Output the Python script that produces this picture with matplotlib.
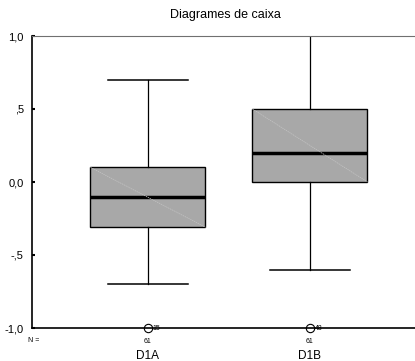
import matplotlib
matplotlib.use("Agg")
import matplotlib.pyplot as plt

# values
groups = ["D1A", "D1B"]
n_counts = [61, 61]
q1 = [-0.31, 0.00]
medians = [-0.10, 0.20]
q3 = [0.10, 0.50]
whislo = [-0.70, -0.60]
whishi = [0.70, 1.00]
outliers = [[-1.0], [-1.0]]
outlier_ids = ["15", "48"]
yticks = [-1.0, -0.5, 0.0, 0.5, 1.0]
ytick_labels = ["-1,0", "-,5", "0,0", ",5", "1,0"]

plt.rcParams['font.family'] = ['Liberation Sans', 'DejaVu Sans']

fig = plt.figure(figsize=(4.15, 3.61), dpi=100)
ax = fig.add_axes([32/415, 1-328/361, (419-32)/415, (328-36)/361])

stats = []
for i in range(len(groups)):
    stats.append(dict(med=medians[i], q1=q1[i], q3=q3[i], whislo=whislo[i],
                      whishi=whishi[i], fliers=outliers[i], label=groups[i]))

pos = [1, 2]
bw = 0.71
ax.bxp(stats, positions=pos, widths=bw, patch_artist=True, showfliers=True,
       boxprops=dict(facecolor='#a8a8a8', edgecolor='black', linewidth=1),
       medianprops=dict(color='black', linewidth=2.5),
       whiskerprops=dict(color='black', linewidth=0.9),
       capprops=dict(color='black', linewidth=1.1),
       capwidths=0.49,
       flierprops=dict(marker='o', markerfacecolor='none', markeredgecolor='black',
                       markersize=6, markeredgewidth=0.8, clip_on=False))

# faint diagonal across each box (shading artefact)
for p, lo, hi in zip(pos, q1, q3):
    ax.plot([p - bw/2, p + bw/2], [hi, lo], color='#c4c4c4', lw=0.5,
            ls=(0, (2, 1)), zorder=3)

for p, fl, lab in zip(pos, outliers, outlier_ids):
    for v in fl:
        ax.text(p + 0.03, v, lab, fontsize=5, va='center', ha='left',
                clip_on=False)

ax.set_xlim(0.284, 2.673)
ax.set_ylim(-1.0, 1.0)
ax.set_yticks(yticks)
ax.set_yticklabels(ytick_labels, fontsize=8)
ax.tick_params(axis='y', length=2, width=1.5, direction='in', pad=6)
ax.set_xticks(pos)
ax.set_xticklabels(groups, fontsize=8.5)
ax.tick_params(axis='x', length=0, pad=16)

for p, n in zip(pos, n_counts):
    ax.text(p, -1.09, str(n), fontsize=5, ha='center', va='center',
            clip_on=False)
fig.text(28/415, 1-341/361, "N =", fontsize=5, ha='left',
         va='center')

ax.spines['right'].set_visible(False)
ax.spines['top'].set_color('#707070')
ax.spines['top'].set_linewidth(0.8)
ax.spines['left'].set_linewidth(1.2)
ax.spines['bottom'].set_linewidth(1.2)

fig.text(225/415, 1-15/361, "Diagrames de caixa", ha='center', va='center', fontsize=9)

fig.savefig("out.png", dpi=100)
